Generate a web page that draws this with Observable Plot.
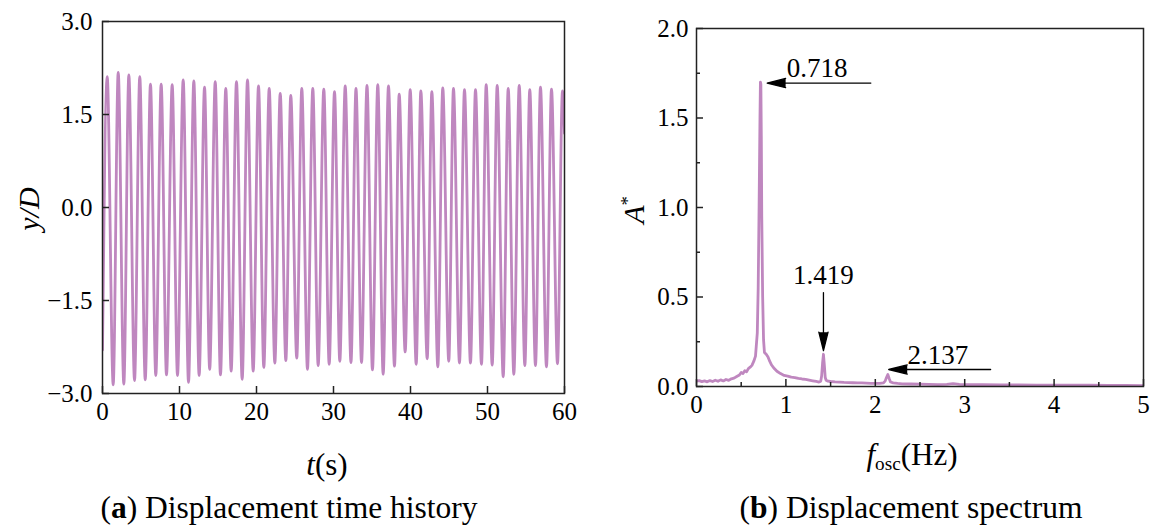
<!DOCTYPE html>
<html><head><meta charset="utf-8">
<script src="https://cdn.jsdelivr.net/npm/d3@7"></script>
<script src="https://cdn.jsdelivr.net/npm/@observablehq/plot@0.6"></script>
<style>
html,body{margin:0;padding:0;background:#fff;}
body{width:1156px;height:530px;position:relative;overflow:hidden;font-family:"Liberation Serif",serif;color:#000;}
.abs{position:absolute;}
.lab{position:absolute;transform:translate(-50%,-50%);white-space:nowrap;line-height:1;}
.rot{transform:translate(-50%,-50%) rotate(-90deg);}
sub{font-size:0.62em;vertical-align:-0.25em;}
sup{font-size:0.62em;vertical-align:0.55em;}
</style></head><body>
<div id="left" class="abs" style="left:0;top:0"></div>
<div id="right" class="abs" style="left:580px;top:0"></div>
<div class="lab rot" style="left:29px;top:209px;font-size:30px;font-style:italic;">y/D</div>
<div class="lab" style="left:327px;top:464px;font-size:31px;"><i>t</i>(s)</div>
<div class="lab rot" style="left:634px;top:210px;font-size:30px;"><i>A</i><sup>*</sup></div>
<div class="lab" style="left:912px;top:456px;font-size:31px;"><i>f</i><sub>osc</sub>(Hz)</div>
<div class="lab" style="left:289px;top:508px;font-size:31.5px;">(<b>a</b>) Displacement time history</div>
<div class="lab" style="left:911px;top:508px;font-size:31.5px;">(<b>b</b>) Displacement spectrum</div>
<script>
// ---- (a) time history: extrema ----
const peakT = [0.61, 2.04, 3.42, 4.84, 6.23, 7.62, 9.05, 10.48, 11.86, 13.25, 14.64, 16.01, 17.40, 18.83, 20.26, 21.65, 23.08, 24.45, 25.88, 27.31, 28.74, 30.13, 31.52, 32.92, 34.35, 35.75, 37.14, 38.53, 39.96, 41.34, 42.77, 44.19, 45.58, 47.01, 48.44, 49.83, 51.26, 52.69, 54.12, 55.49, 56.88, 58.31, 59.74];
const peakY = [2.11, 2.18, 2.14, 2.11, 1.99, 1.99, 1.98, 2.06, 2.04, 1.94, 2.03, 1.92, 2.03, 2.06, 1.96, 1.92, 1.84, 1.81, 1.92, 1.92, 1.91, 1.87, 1.96, 1.92, 1.97, 1.98, 1.96, 1.83, 1.90, 1.88, 1.87, 1.93, 1.92, 1.90, 1.90, 1.98, 1.97, 1.92, 1.97, 1.90, 1.94, 1.91, 1.88];
const troughT = [1.39, 2.77, 4.16, 5.55, 6.92, 8.31, 9.74, 11.17, 12.55, 13.92, 15.32, 16.71, 18.14, 19.57, 20.95, 22.38, 23.81, 25.23, 26.62, 28.01, 29.44, 30.82, 32.27, 33.64, 35.06, 36.45, 37.92, 39.31, 40.74, 42.17, 43.55, 44.97, 46.36, 47.79, 49.22, 50.61, 52.04, 53.42, 54.85, 56.23, 57.66, 59.09];
const troughY = [-2.86, -2.85, -2.79, -2.78, -2.71, -2.70, -2.71, -2.82, -2.71, -2.61, -2.70, -2.64, -2.77, -2.64, -2.58, -2.51, -2.47, -2.43, -2.61, -2.55, -2.53, -2.48, -2.50, -2.50, -2.62, -2.69, -2.56, -2.33, -2.53, -2.44, -2.57, -2.48, -2.51, -2.51, -2.53, -2.54, -2.73, -2.69, -2.55, -2.55, -2.57, -2.52];
const startT = 0, startY = -2.3;
const endT = 60, endY = 1.2;
const tTicks = [0, 10, 20, 30, 40, 50, 60];
const yTicks = [-3, -1.5, 0, 1.5, 3];

// ---- (b) spectrum ----
const freq = [0.00,0.03,0.06,0.09,0.12,0.15,0.18,0.21,0.24,0.27,0.30,0.33,0.36,0.39,0.42,0.45,0.48,0.50,0.52,0.54,0.56,0.58,0.60,0.62,0.64,0.66,0.68,0.69,0.70,0.71,0.715,0.72,0.725,0.73,0.74,0.75,0.76,0.78,0.80,0.82,0.84,0.87,0.90,0.94,0.98,1.02,1.06,1.10,1.14,1.18,1.22,1.26,1.30,1.34,1.37,1.39,1.40,1.41,1.42,1.43,1.44,1.45,1.47,1.50,1.55,1.60,1.65,1.70,1.75,1.80,1.85,1.90,1.95,2.00,2.05,2.09,2.11,2.125,2.14,2.155,2.17,2.20,2.25,2.30,2.40,2.50,2.60,2.70,2.80,2.87,2.94,3.00,3.20,3.40,3.60,3.80,4.00,4.20,4.40,4.60,4.80,5.00];
const amp = [0.030,0.033,0.027,0.031,0.026,0.033,0.028,0.035,0.029,0.037,0.031,0.039,0.034,0.043,0.047,0.056,0.064,0.078,0.072,0.088,0.082,0.100,0.108,0.118,0.140,0.170,0.30,0.55,1.00,1.50,1.70,1.69,1.40,0.95,0.50,0.26,0.19,0.18,0.165,0.14,0.12,0.10,0.085,0.072,0.062,0.058,0.052,0.050,0.045,0.042,0.040,0.036,0.032,0.028,0.025,0.030,0.060,0.13,0.18,0.12,0.05,0.035,0.030,0.028,0.026,0.025,0.023,0.022,0.021,0.020,0.020,0.019,0.018,0.017,0.018,0.020,0.030,0.050,0.067,0.045,0.025,0.020,0.017,0.015,0.014,0.013,0.012,0.011,0.012,0.016,0.012,0.011,0.010,0.009,0.009,0.008,0.008,0.007,0.007,0.006,0.006,0.005];
const fTicks = [0, 1, 2, 3, 4, 5];
const fMinor = [0.5, 1.5, 2.5, 3.5, 4.5];
const aTicks = [0, 0.5, 1.0, 1.5, 2.0];
const aMinor = [0.25, 0.75, 1.25, 1.75];
const peakLabels = ["0.718", "1.419", "2.137"];
const labelF = [1.35, 1.42, 2.70];
const labelA = [1.775, 0.62, 0.176];
const arrowF1 = [1.95, 1.42, 3.29];
const arrowA1 = [1.695, 0.525, 0.095];
const arrowF2 = [0.79, 1.42, 2.15];
const arrowA2 = [1.695, 0.20, 0.095];

const lineColor = "#bf87bf";
const axisColor = "#222";
const baseStyle = {fontFamily: "Liberation Serif, serif", fontSize: "25px", color: "#000", background: "white", overflow: "visible"};

// build tables
const series = [{t: startT, y: startY}];
for (let i = 0; i < peakT.length; i++) {
  series.push({t: peakT[i], y: peakY[i]});
  if (i < troughT.length) series.push({t: troughT[i], y: troughY[i]});
}
series.push({t: endT, y: endY});
const spectrum = freq.map((f, i) => ({f, a: amp[i]}));
const ann = peakLabels.map((s, i) => ({s, lf: labelF[i], la: labelA[i], x1: arrowF1[i], y1: arrowA1[i], x2: arrowF2[i], y2: arrowA2[i]}));

// ---- left chart ----
const LW = 580, LH = 480, LmL = 102, LmR = 16, LmT = 21, LmB = 87;
const LpH = LH - LmT - LmB, LpW = LW - LmL - LmR;
const left = Plot.plot({
  width: LW, height: LH,
  marginLeft: LmL, marginRight: LmR, marginTop: LmT, marginBottom: LmB,
  style: baseStyle,
  x: {domain: [0, 60]},
  y: {domain: [-3, 3]},
  marks: [
    Plot.line(series, {x: "t", y: "y", curve: "monotone-x", stroke: lineColor, strokeWidth: 2.8, clip: true}),
    Plot.ruleX(tTicks, {x: d => d, insetTop: LpH - 7, stroke: axisColor, strokeWidth: 1.5}),
    Plot.ruleY(yTicks, {y: d => d, insetRight: LpW - 7, stroke: axisColor, strokeWidth: 1.5}),
    Plot.axisX({ticks: tTicks, tickSize: 0, tickPadding: 9, label: null, tickFormat: d3.format("d")}),
    Plot.axisY({ticks: yTicks, tickSize: 0, tickPadding: 10, label: null, tickFormat: d3.format(".1f")}),
    Plot.frame({stroke: axisColor, strokeWidth: 1.5})
  ]
});
document.getElementById("left").appendChild(left);

// ---- right chart ----
const RW = 576, RH = 480, RmL = 116, RmR = 13, RmT = 28, RmB = 94;
const RpH = RH - RmT - RmB, RpW = RW - RmL - RmR;
const right = Plot.plot({
  width: RW, height: RH,
  marginLeft: RmL, marginRight: RmR, marginTop: RmT, marginBottom: RmB,
  style: baseStyle,
  x: {domain: [0, 5]},
  y: {domain: [0, 2]},
  marks: [
    Plot.line(spectrum, {x: "f", y: "a", stroke: lineColor, strokeWidth: 2.8, clip: true}),
    Plot.ruleX(fTicks, {x: d => d, insetTop: RpH - 7, stroke: axisColor, strokeWidth: 1.5}),
    Plot.ruleX(fMinor, {x: d => d, insetTop: RpH - 4, stroke: axisColor, strokeWidth: 1.5}),
    Plot.ruleY(aTicks, {y: d => d, insetRight: RpW - 7, stroke: axisColor, strokeWidth: 1.5}),
    Plot.ruleY(aMinor, {y: d => d, insetRight: RpW - 4, stroke: axisColor, strokeWidth: 1.5}),
    Plot.axisX({ticks: fTicks, tickSize: 0, tickPadding: 9, label: null, tickFormat: d3.format("d")}),
    Plot.axisY({ticks: aTicks, tickSize: 0, tickPadding: 8, label: null, tickFormat: d3.format(".1f")}),
    Plot.arrow(ann, {x1: "x1", y1: "y1", x2: "x2", y2: "y2", stroke: "#000", fill: "#000", strokeWidth: 1.3, headLength: 22, headAngle: 28}),
    Plot.text(ann, {x: "lf", y: "la", text: "s", fontSize: 27, fill: "#000", lineAnchor: "middle"}),
    Plot.frame({stroke: axisColor, strokeWidth: 1.5})
  ]
});
document.getElementById("right").appendChild(right);
</script>
</body></html>
